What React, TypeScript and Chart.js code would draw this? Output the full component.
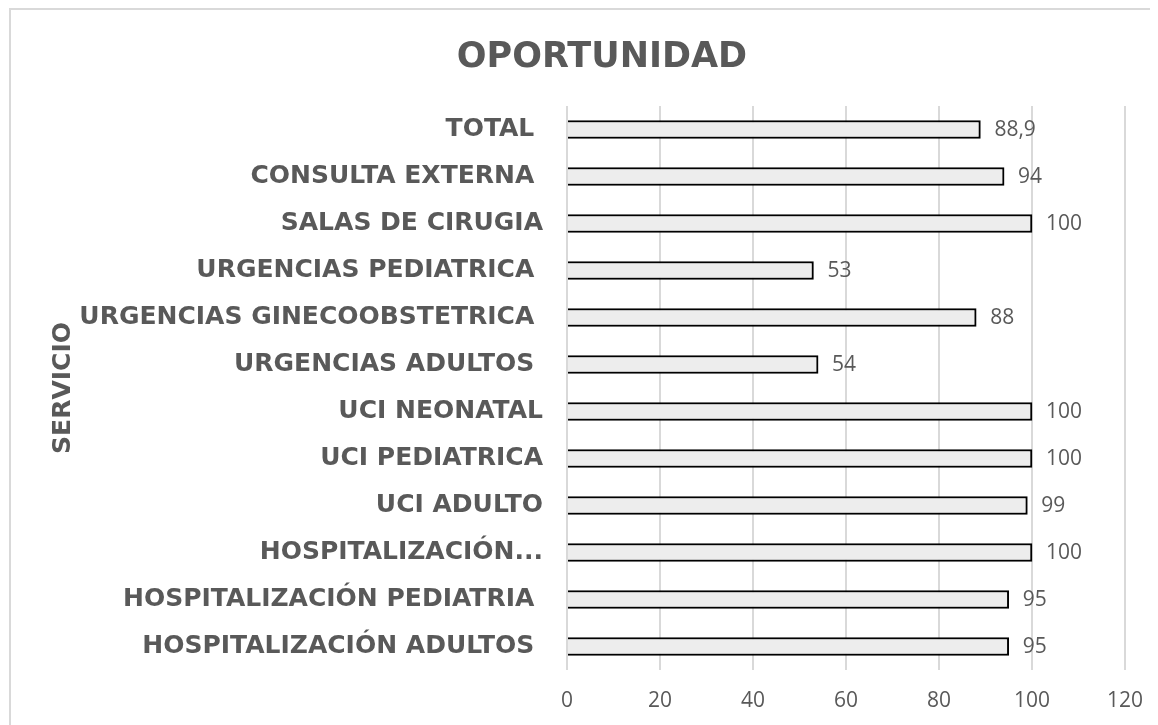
import React, { useEffect, useRef } from "react";
import { Chart, registerables } from "chart.js";

Chart.register(...registerables);

const chartTitle = "OPORTUNIDAD";
const axisTitle = "SERVICIO";
const categories = [
  "TOTAL ",
  "CONSULTA EXTERNA ",
  "SALAS DE CIRUGIA",
  "URGENCIAS PEDIATRICA ",
  "URGENCIAS GINECOOBSTETRICA ",
  "URGENCIAS ADULTOS ",
  "UCI NEONATAL",
  "UCI PEDIATRICA",
  "UCI ADULTO",
  "HOSPITALIZACIÓN...",
  "HOSPITALIZACIÓN PEDIATRIA ",
  "HOSPITALIZACIÓN ADULTOS ",
];
const values = [88.9, 94, 100, 53, 88, 54, 100, 100, 99, 100, 95, 95];
const xMin = 0;
const xMax = 120;
const xStep = 20;

const TEXT = "#595959";
const LABEL_FONT = "DejaVu Sans";
const NUM_FONT = "Open Sans";

const titlePlugin = {
  id: "customTitle",
  afterDraw(chart: any) {
    const ctx = chart.ctx;
    ctx.save();
    ctx.font = `bold 35px "${LABEL_FONT}"`;
    ctx.fillStyle = TEXT;
    ctx.textAlign = "center";
    ctx.textBaseline = "alphabetic";
    ctx.fillText(chartTitle, chart.width / 2 + 1, 57);
    ctx.restore();
  },
};

const valueLabelPlugin = {
  id: "valueLabels",
  afterDatasetsDraw(chart: any) {
    const ctx = chart.ctx;
    const meta = chart.getDatasetMeta(0);
    ctx.save();
    ctx.font = `21px "${NUM_FONT}"`;
    ctx.fillStyle = TEXT;
    ctx.textAlign = "left";
    ctx.textBaseline = "middle";
    meta.data.forEach((bar: any, i: number) => {
      const v = chart.data.datasets[0].data[i];
      const txt = String(v).replace(".", ",");
      ctx.fillText(txt, bar.x + 14, bar.y + 1);
    });
    ctx.restore();
  },
};

export default function App() {
  const ref = useRef<HTMLCanvasElement | null>(null);

  useEffect(() => {
    if (!ref.current) return;
    const chart = new Chart(ref.current, {
      type: "bar",
      data: {
        labels: categories,
        datasets: [
          {
            data: values,
            backgroundColor: "#EDEDED",
            borderColor: "#000000",
            borderWidth: 2,
            barThickness: 18,
          },
        ],
      },
      options: {
        indexAxis: "y",
        responsive: false,
        animation: false,
        layout: { padding: { top: 96, left: 32, right: 66, bottom: 50 } },
        plugins: {
          legend: { display: false },
          tooltip: { enabled: false },
          title: { display: false },
        },
        scales: {
          x: {
            min: xMin,
            max: xMax,
            ticks: {
              stepSize: xStep,
              color: TEXT,
              font: { family: NUM_FONT, size: 21 },
              padding: 18,
            },
            grid: { color: "#D9D9D9", lineWidth: 2, drawTicks: false },
            border: { display: false },
            afterFit(scale: any) {
              scale.height = 50;
            },
          },
          y: {
            ticks: {
              color: TEXT,
              font: { family: LABEL_FONT, size: 25, weight: "bold" },
              padding: 24,
              autoSkip: false,
            },
            grid: { display: false, drawTicks: false },
            border: { display: false },
            title: {
              display: true,
              text: axisTitle,
              color: TEXT,
              font: { family: LABEL_FONT, size: 25, weight: "bold" },
              padding: { top: 5, bottom: 0 },
            },
            afterFit(scale: any) {
              scale.width = 524;
            },
          },
        },
      },
      plugins: [titlePlugin, valueLabelPlugin],
    });
    return () => chart.destroy();
  }, []);

  return (
    <div style={{ width: 1150, height: 717, overflow: "hidden", position: "relative" }}>
      <div
        style={{
          position: "absolute",
          left: 1,
          top: 0,
          width: 1180,
          height: 800,
          border: "2px solid #D9D9D9",
          background: "#FFFFFF",
        }}
      >
        <canvas ref={ref} width={1180} height={760} style={{ display: "block" }} />
      </div>
    </div>
  );
}
